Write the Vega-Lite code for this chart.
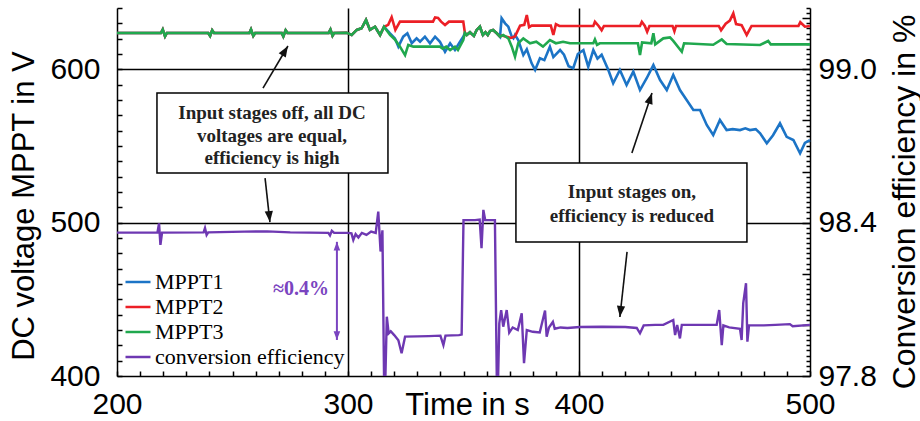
{
"$schema": "https://vega.github.io/schema/vega-lite/v6.json",
"width": 693, "height": 368,
"autosize": {"type": "none"},
"padding": {"left": 117, "top": 8, "right": 110, "bottom": 45},
"background": "white",
"config": {
 "view": {"stroke": null},
 "axis": {"ticks": true, "domainColor": "#000", "domainWidth": 1.5, "tickColor": "#000", "tickWidth": 1.5, "labelColor": "#000", "titleColor": "#000", "labelFont": "Liberation Sans", "titleFont": "Liberation Sans", "labelFontSize": 30, "titleFontSize": 31, "titleFontWeight": "normal", "labelOverlap": false, "labelSeparation": -80, "labelBound": false, "labelFlush": false, "gridColor": "#000", "gridWidth": 1.5}
},
"datasets": {
 "mppt": [
  {"s":"MPPT1","t":200,"v":623.7},{"s":"MPPT1","t":219,"v":623.7},{"s":"MPPT1","t":219.8,"v":626},{"s":"MPPT1","t":220.8,"v":621.5},{"s":"MPPT1","t":221.6,"v":623.7},{"s":"MPPT1","t":239.5,"v":623.7},{"s":"MPPT1","t":240.3,"v":621.8},{"s":"MPPT1","t":241.2,"v":625.5},{"s":"MPPT1","t":242,"v":623.7},{"s":"MPPT1","t":257.3,"v":623.7},{"s":"MPPT1","t":258,"v":626},{"s":"MPPT1","t":259,"v":621.8},{"s":"MPPT1","t":259.8,"v":623.7},{"s":"MPPT1","t":271.3,"v":623.7},{"s":"MPPT1","t":272,"v":621.5},{"s":"MPPT1","t":273,"v":625.5},{"s":"MPPT1","t":273.8,"v":623.7},{"s":"MPPT1","t":291.6,"v":623.7},{"s":"MPPT1","t":292.4,"v":626},{"s":"MPPT1","t":293.3,"v":622},{"s":"MPPT1","t":294,"v":623.7},{"s":"MPPT1","t":299.4,"v":623.9},{"s":"MPPT1","t":301.6,"v":622.4},{"s":"MPPT1","t":303.8,"v":625.7},{"s":"MPPT1","t":305.9,"v":626.8},{"s":"MPPT1","t":307.8,"v":632.2},{"s":"MPPT1","t":309.5,"v":625.7},{"s":"MPPT1","t":311.7,"v":627.8},{"s":"MPPT1","t":313.9,"v":622.4},{"s":"MPPT1","t":315.6,"v":627.8},
  {"s":"MPPT1","t":318.2,"v":623.5},{"s":"MPPT1","t":320.3,"v":620.2},{"s":"MPPT1","t":321.8,"v":614.8},{"s":"MPPT1","t":323.9,"v":621.3},{"s":"MPPT1","t":325.7,"v":623.5},{"s":"MPPT1","t":327.6,"v":617},{"s":"MPPT1","t":329.7,"v":620.2},{"s":"MPPT1","t":331.2,"v":618},{"s":"MPPT1","t":333.3,"v":621.3},{"s":"MPPT1","t":335.5,"v":617},{"s":"MPPT1","t":337.7,"v":621.3},{"s":"MPPT1","t":339.8,"v":618},{"s":"MPPT1","t":342,"v":611.5},{"s":"MPPT1","t":344.2,"v":617},{"s":"MPPT1","t":346.3,"v":612.6},{"s":"MPPT1","t":348.5,"v":618},{"s":"MPPT1","t":349.9,"v":621.3},{"s":"MPPT1","t":350.6,"v":623.7},
  {"s":"MPPT1","t":351.4,"v":622.4},{"s":"MPPT1","t":352.8,"v":624.2},{"s":"MPPT1","t":354.5,"v":621.8},{"s":"MPPT1","t":355.7,"v":625.7},{"s":"MPPT1","t":357.1,"v":627.8},{"s":"MPPT1","t":358.4,"v":622.4},{"s":"MPPT1","t":359.5,"v":624.2},{"s":"MPPT1","t":360.5,"v":622.4},{"s":"MPPT1","t":361.5,"v":625},{"s":"MPPT1","t":362.8,"v":625.7},{"s":"MPPT1","t":364.4,"v":623.5},{"s":"MPPT1","t":365.8,"v":621.3},
  {"s":"MPPT1","t":366.5,"v":633.3},{"s":"MPPT1","t":368,"v":630},{"s":"MPPT1","t":369.4,"v":627.8},{"s":"MPPT1","t":370.9,"v":621.3},{"s":"MPPT1","t":371.6,"v":620.2},{"s":"MPPT1","t":372.3,"v":622.4},{"s":"MPPT1","t":373.7,"v":619.1},{"s":"MPPT1","t":375.9,"v":609.3},{"s":"MPPT1","t":377.4,"v":613},{"s":"MPPT1","t":379.5,"v":603.9},{"s":"MPPT1","t":381,"v":599.6},{"s":"MPPT1","t":383.1,"v":607.2},{"s":"MPPT1","t":385,"v":606},{"s":"MPPT1","t":387.4,"v":614.8},{"s":"MPPT1","t":388.9,"v":608},{"s":"MPPT1","t":391.8,"v":612.6},{"s":"MPPT1","t":393.5,"v":609.5},{"s":"MPPT1","t":395.5,"v":602},{"s":"MPPT1","t":397.5,"v":600.7},{"s":"MPPT1","t":399.5,"v":610},{"s":"MPPT1","t":401.9,"v":612.6},{"s":"MPPT1","t":404,"v":601.7},{"s":"MPPT1","t":406.2,"v":612.6},{"s":"MPPT1","t":408,"v":607},{"s":"MPPT1","t":409.8,"v":609.5},{"s":"MPPT1","t":412.7,"v":599.6},{"s":"MPPT1","t":414.8,"v":590.9},{"s":"MPPT1","t":417.7,"v":599.6},{"s":"MPPT1","t":420.6,"v":589.8},{"s":"MPPT1","t":423.5,"v":598.5},{"s":"MPPT1","t":426.4,"v":586.5},{"s":"MPPT1","t":429.3,"v":594.2},{"s":"MPPT1","t":432.2,"v":602.8},{"s":"MPPT1","t":435.1,"v":593},{"s":"MPPT1","t":438,"v":586.5},{"s":"MPPT1","t":440.8,"v":596.3},{"s":"MPPT1","t":443.7,"v":586.5},{"s":"MPPT1","t":446.6,"v":580},{"s":"MPPT1","t":449.5,"v":573.5},{"s":"MPPT1","t":452.4,"v":573.5},{"s":"MPPT1","t":455.3,"v":563.7},{"s":"MPPT1","t":458.1,"v":557.2},{"s":"MPPT1","t":461,"v":567},{"s":"MPPT1","t":463.9,"v":560.4},{"s":"MPPT1","t":466.5,"v":561},{"s":"MPPT1","t":469.7,"v":560.4},{"s":"MPPT1","t":472,"v":561.5},{"s":"MPPT1","t":474,"v":560.4},{"s":"MPPT1","t":476.5,"v":561},{"s":"MPPT1","t":478.4,"v":558.3},{"s":"MPPT1","t":481.3,"v":551.8},{"s":"MPPT1","t":484,"v":557},{"s":"MPPT1","t":487,"v":564.8},{"s":"MPPT1","t":489.9,"v":556},{"s":"MPPT1","t":492.8,"v":553.9},{"s":"MPPT1","t":495.7,"v":545.2},{"s":"MPPT1","t":497.8,"v":552},{"s":"MPPT1","t":500,"v":553.9},
  {"s":"MPPT2","t":200,"v":623.7},{"s":"MPPT2","t":219,"v":623.7},{"s":"MPPT2","t":219.8,"v":626},{"s":"MPPT2","t":220.8,"v":621.5},{"s":"MPPT2","t":221.6,"v":623.7},{"s":"MPPT2","t":239.5,"v":623.7},{"s":"MPPT2","t":240.3,"v":621.8},{"s":"MPPT2","t":241.2,"v":625.5},{"s":"MPPT2","t":242,"v":623.7},{"s":"MPPT2","t":257.3,"v":623.7},{"s":"MPPT2","t":258,"v":626},{"s":"MPPT2","t":259,"v":621.8},{"s":"MPPT2","t":259.8,"v":623.7},{"s":"MPPT2","t":271.3,"v":623.7},{"s":"MPPT2","t":272,"v":621.5},{"s":"MPPT2","t":273,"v":625.5},{"s":"MPPT2","t":273.8,"v":623.7},{"s":"MPPT2","t":291.6,"v":623.7},{"s":"MPPT2","t":292.4,"v":626},{"s":"MPPT2","t":293.3,"v":622},{"s":"MPPT2","t":294,"v":623.7},{"s":"MPPT2","t":299.4,"v":623.9},{"s":"MPPT2","t":301.6,"v":622.4},{"s":"MPPT2","t":303.8,"v":625.7},{"s":"MPPT2","t":305.9,"v":626.8},{"s":"MPPT2","t":307.8,"v":632.2},{"s":"MPPT2","t":309.5,"v":625.7},{"s":"MPPT2","t":311.7,"v":627.8},{"s":"MPPT2","t":313.9,"v":622.4},{"s":"MPPT2","t":315.6,"v":627.8},
  {"s":"MPPT2","t":317.4,"v":629},{"s":"MPPT2","t":318.9,"v":634},{"s":"MPPT2","t":320.5,"v":625.7},{"s":"MPPT2","t":322.5,"v":631.1},{"s":"MPPT2","t":336.8,"v":631.1},{"s":"MPPT2","t":337.7,"v":633.8},{"s":"MPPT2","t":339,"v":633.5},{"s":"MPPT2","t":340.3,"v":631.1},{"s":"MPPT2","t":342,"v":628.9},{"s":"MPPT2","t":343.7,"v":631.1},{"s":"MPPT2","t":349.9,"v":631.1},{"s":"MPPT2","t":350.6,"v":623.7},
  {"s":"MPPT2","t":351.4,"v":622.4},{"s":"MPPT2","t":352.8,"v":624.2},{"s":"MPPT2","t":354.5,"v":621.8},{"s":"MPPT2","t":355.7,"v":625.7},{"s":"MPPT2","t":357.1,"v":627.8},{"s":"MPPT2","t":358.4,"v":622.4},{"s":"MPPT2","t":359.5,"v":624.2},{"s":"MPPT2","t":360.5,"v":622.4},{"s":"MPPT2","t":361.5,"v":625},{"s":"MPPT2","t":362.8,"v":625.7},{"s":"MPPT2","t":364.4,"v":623.5},{"s":"MPPT2","t":365.8,"v":621.3},
  {"s":"MPPT2","t":366.5,"v":622},{"s":"MPPT2","t":370.5,"v":620.5},{"s":"MPPT2","t":372.3,"v":621.5},{"s":"MPPT2","t":374.5,"v":628.5},{"s":"MPPT2","t":376.3,"v":629},{"s":"MPPT2","t":377.4,"v":635.4},{"s":"MPPT2","t":378.4,"v":627.5},{"s":"MPPT2","t":379.5,"v":628.5},{"s":"MPPT2","t":387.8,"v":628.5},{"s":"MPPT2","t":388.9,"v":622.4},{"s":"MPPT2","t":390,"v":629.5},{"s":"MPPT2","t":391.5,"v":628.3},{"s":"MPPT2","t":406.2,"v":628.3},{"s":"MPPT2","t":406.9,"v":631},{"s":"MPPT2","t":408.5,"v":628.3},{"s":"MPPT2","t":409.8,"v":625.5},{"s":"MPPT2","t":410.8,"v":628.3},{"s":"MPPT2","t":426.4,"v":628.3},{"s":"MPPT2","t":427.2,"v":631},{"s":"MPPT2","t":428.5,"v":628.3},{"s":"MPPT2","t":429.5,"v":624.5},{"s":"MPPT2","t":430.5,"v":628.3},{"s":"MPPT2","t":440.5,"v":628.3},{"s":"MPPT2","t":441.3,"v":624.8},{"s":"MPPT2","t":442,"v":628.3},{"s":"MPPT2","t":460.5,"v":628.3},{"s":"MPPT2","t":461.5,"v":625.5},{"s":"MPPT2","t":463.5,"v":629.8},{"s":"MPPT2","t":465.3,"v":631.8},{"s":"MPPT2","t":466.8,"v":636.5},{"s":"MPPT2","t":468,"v":629.5},{"s":"MPPT2","t":470.4,"v":628.8},{"s":"MPPT2","t":472.6,"v":622.4},{"s":"MPPT2","t":474.7,"v":628.3},{"s":"MPPT2","t":495,"v":628.3},{"s":"MPPT2","t":495.8,"v":630.7},{"s":"MPPT2","t":497.8,"v":627.8},{"s":"MPPT2","t":500,"v":628.3},
  {"s":"MPPT3","t":200,"v":623.7},{"s":"MPPT3","t":219,"v":623.7},{"s":"MPPT3","t":219.8,"v":626},{"s":"MPPT3","t":220.8,"v":621.5},{"s":"MPPT3","t":221.6,"v":623.7},{"s":"MPPT3","t":239.5,"v":623.7},{"s":"MPPT3","t":240.3,"v":621.8},{"s":"MPPT3","t":241.2,"v":625.5},{"s":"MPPT3","t":242,"v":623.7},{"s":"MPPT3","t":257.3,"v":623.7},{"s":"MPPT3","t":258,"v":626},{"s":"MPPT3","t":259,"v":621.8},{"s":"MPPT3","t":259.8,"v":623.7},{"s":"MPPT3","t":271.3,"v":623.7},{"s":"MPPT3","t":272,"v":621.5},{"s":"MPPT3","t":273,"v":625.5},{"s":"MPPT3","t":273.8,"v":623.7},{"s":"MPPT3","t":291.6,"v":623.7},{"s":"MPPT3","t":292.4,"v":626},{"s":"MPPT3","t":293.3,"v":622},{"s":"MPPT3","t":294,"v":623.7},{"s":"MPPT3","t":299.4,"v":623.9},{"s":"MPPT3","t":301.6,"v":622.4},{"s":"MPPT3","t":303.8,"v":625.7},{"s":"MPPT3","t":305.9,"v":626.8},{"s":"MPPT3","t":307.8,"v":632.2},{"s":"MPPT3","t":309.5,"v":625.7},{"s":"MPPT3","t":311.7,"v":627.8},{"s":"MPPT3","t":313.9,"v":622.4},{"s":"MPPT3","t":315.6,"v":627.8},
  {"s":"MPPT3","t":318.2,"v":622.4},{"s":"MPPT3","t":320.3,"v":619.5},{"s":"MPPT3","t":322.5,"v":614.8},{"s":"MPPT3","t":324.7,"v":609.3},{"s":"MPPT3","t":326.1,"v":615.9},{"s":"MPPT3","t":328.3,"v":614.8},{"s":"MPPT3","t":339.8,"v":614.8},{"s":"MPPT3","t":341,"v":613.5},{"s":"MPPT3","t":342.5,"v":614.8},{"s":"MPPT3","t":344.2,"v":612.6},{"s":"MPPT3","t":346.3,"v":614.8},{"s":"MPPT3","t":347.6,"v":612.6},{"s":"MPPT3","t":349.9,"v":619.1},{"s":"MPPT3","t":350.6,"v":623.7},
  {"s":"MPPT3","t":351.4,"v":622.4},{"s":"MPPT3","t":352.8,"v":624.2},{"s":"MPPT3","t":354.5,"v":621.8},{"s":"MPPT3","t":355.7,"v":625.7},{"s":"MPPT3","t":357.1,"v":627.8},{"s":"MPPT3","t":358.4,"v":622.4},{"s":"MPPT3","t":359.5,"v":624.2},{"s":"MPPT3","t":360.5,"v":622.4},{"s":"MPPT3","t":361.5,"v":625},{"s":"MPPT3","t":362.8,"v":625.7},{"s":"MPPT3","t":364.4,"v":623.5},{"s":"MPPT3","t":365.8,"v":621.3},
  {"s":"MPPT3","t":367.2,"v":622.4},{"s":"MPPT3","t":369.4,"v":620.2},{"s":"MPPT3","t":370.9,"v":614.8},{"s":"MPPT3","t":372.3,"v":608.2},{"s":"MPPT3","t":373.7,"v":617},{"s":"MPPT3","t":375.9,"v":620.2},{"s":"MPPT3","t":378.8,"v":617},{"s":"MPPT3","t":381.5,"v":618},{"s":"MPPT3","t":384.4,"v":614.8},{"s":"MPPT3","t":387.4,"v":619.1},{"s":"MPPT3","t":390,"v":617},{"s":"MPPT3","t":393.1,"v":618},{"s":"MPPT3","t":396.1,"v":617},{"s":"MPPT3","t":406.2,"v":617},{"s":"MPPT3","t":406.9,"v":619.5},{"s":"MPPT3","t":407.8,"v":616},{"s":"MPPT3","t":409,"v":617},{"s":"MPPT3","t":425.5,"v":617},{"s":"MPPT3","t":426.4,"v":609.3},{"s":"MPPT3","t":427.3,"v":617.5},{"s":"MPPT3","t":431.3,"v":617},{"s":"MPPT3","t":432.2,"v":623.5},{"s":"MPPT3","t":433,"v":616.3},{"s":"MPPT3","t":436.5,"v":620.2},{"s":"MPPT3","t":439.4,"v":620.8},{"s":"MPPT3","t":440.8,"v":618.5},{"s":"MPPT3","t":444.5,"v":611.5},{"s":"MPPT3","t":445.5,"v":617},{"s":"MPPT3","t":458.1,"v":616},{"s":"MPPT3","t":461.8,"v":619.5},{"s":"MPPT3","t":463.9,"v":616.5},{"s":"MPPT3","t":478.4,"v":615.9},{"s":"MPPT3","t":481.9,"v":618.5},{"s":"MPPT3","t":483,"v":616.3},{"s":"MPPT3","t":500,"v":616.3}
 ],
 "eff": [
  {"s":"conversion efficiency","t":200,"e":98.361},{"s":"conversion efficiency","t":217.5,"e":98.361},{"s":"conversion efficiency","t":218.2,"e":98.397},{"s":"conversion efficiency","t":218.8,"e":98.313},{"s":"conversion efficiency","t":219.5,"e":98.361},{"s":"conversion efficiency","t":237.5,"e":98.362},{"s":"conversion efficiency","t":238.1,"e":98.379},{"s":"conversion efficiency","t":238.8,"e":98.352},{"s":"conversion efficiency","t":239.5,"e":98.362},{"s":"conversion efficiency","t":255,"e":98.365},{"s":"conversion efficiency","t":265,"e":98.366},{"s":"conversion efficiency","t":275,"e":98.362},{"s":"conversion efficiency","t":291.5,"e":98.36},{"s":"conversion efficiency","t":292.2,"e":98.35},{"s":"conversion efficiency","t":293,"e":98.368},{"s":"conversion efficiency","t":294,"e":98.36},{"s":"conversion efficiency","t":300,"e":98.36},{"s":"conversion efficiency","t":301.5,"e":98.358},{"s":"conversion efficiency","t":302.3,"e":98.332},{"s":"conversion efficiency","t":303.3,"e":98.355},{"s":"conversion efficiency","t":304.5,"e":98.342},{"s":"conversion efficiency","t":306,"e":98.36},{"s":"conversion efficiency","t":308,"e":98.352},{"s":"conversion efficiency","t":310,"e":98.365},{"s":"conversion efficiency","t":312,"e":98.36},{"s":"conversion efficiency","t":313.1,"e":98.443},{"s":"conversion efficiency","t":314.1,"e":98.287},{"s":"conversion efficiency","t":314.9,"e":98.37},{"s":"conversion efficiency","t":315.6,"e":97.8},{"s":"conversion efficiency","t":316.2,"e":97.8},{"s":"conversion efficiency","t":316.8,"e":98.032},{"s":"conversion efficiency","t":317.6,"e":97.967},{"s":"conversion efficiency","t":318.5,"e":97.975},{"s":"conversion efficiency","t":320,"e":97.96},{"s":"conversion efficiency","t":321.8,"e":97.94},{"s":"conversion efficiency","t":323.2,"e":97.889},{"s":"conversion efficiency","t":324.7,"e":97.954},{"s":"conversion efficiency","t":330,"e":97.955},{"s":"conversion efficiency","t":335,"e":97.956},{"s":"conversion efficiency","t":340,"e":97.958},{"s":"conversion efficiency","t":341.3,"e":97.921},{"s":"conversion efficiency","t":342.2,"e":97.958},{"s":"conversion efficiency","t":348,"e":97.96},{"s":"conversion efficiency","t":349.2,"e":97.962},{"s":"conversion efficiency","t":350,"e":98.41},{"s":"conversion efficiency","t":355,"e":98.41},{"s":"conversion efficiency","t":357,"e":98.412},{"s":"conversion efficiency","t":357.8,"e":98.3},{"s":"conversion efficiency","t":358.6,"e":98.45},{"s":"conversion efficiency","t":359.4,"e":98.41},{"s":"conversion efficiency","t":363.6,"e":98.41},{"s":"conversion efficiency","t":364.4,"e":97.8},{"s":"conversion efficiency","t":365,"e":97.8},{"s":"conversion efficiency","t":365.5,"e":98.006},{"s":"conversion efficiency","t":366.3,"e":98.058},{"s":"conversion efficiency","t":367.2,"e":97.993},{"s":"conversion efficiency","t":368.7,"e":98.058},{"s":"conversion efficiency","t":369.8,"e":97.97},{"s":"conversion efficiency","t":371.3,"e":97.99},{"s":"conversion efficiency","t":373.5,"e":97.98},{"s":"conversion efficiency","t":375.2,"e":98.045},{"s":"conversion efficiency","t":376.2,"e":97.85},{"s":"conversion efficiency","t":377.4,"e":97.98},{"s":"conversion efficiency","t":380,"e":97.973},{"s":"conversion efficiency","t":383,"e":97.97},{"s":"conversion efficiency","t":385.3,"e":98.056},{"s":"conversion efficiency","t":386,"e":97.954},{"s":"conversion efficiency","t":387,"e":97.99},{"s":"conversion efficiency","t":388.7,"e":98.012},{"s":"conversion efficiency","t":389.5,"e":97.985},{"s":"conversion efficiency","t":392,"e":97.99},{"s":"conversion efficiency","t":395,"e":97.988},{"s":"conversion efficiency","t":400.4,"e":97.992},{"s":"conversion efficiency","t":410,"e":97.993},{"s":"conversion efficiency","t":420,"e":97.992},{"s":"conversion efficiency","t":425,"e":97.988},{"s":"conversion efficiency","t":426.4,"e":97.967},{"s":"conversion efficiency","t":428,"e":97.998},{"s":"conversion efficiency","t":433,"e":98},{"s":"conversion efficiency","t":436.5,"e":98},{"s":"conversion efficiency","t":440.8,"e":98.019},{"s":"conversion efficiency","t":441.6,"e":97.96},{"s":"conversion efficiency","t":442.5,"e":98},{"s":"conversion efficiency","t":443.7,"e":97.947},{"s":"conversion efficiency","t":444.5,"e":98},{"s":"conversion efficiency","t":450,"e":98},{"s":"conversion efficiency","t":459.6,"e":98},{"s":"conversion efficiency","t":460.7,"e":98.058},{"s":"conversion efficiency","t":461.8,"e":97.921},{"s":"conversion efficiency","t":462.5,"e":97.998},{"s":"conversion efficiency","t":465,"e":97.99},{"s":"conversion efficiency","t":469.7,"e":97.985},{"s":"conversion efficiency","t":470.4,"e":97.941},{"s":"conversion efficiency","t":471.1,"e":98.085},{"s":"conversion efficiency","t":472.3,"e":98.163},{"s":"conversion efficiency","t":472.9,"e":97.934},{"s":"conversion efficiency","t":473.6,"e":97.998},{"s":"conversion efficiency","t":480,"e":97.998},{"s":"conversion efficiency","t":485,"e":98},{"s":"conversion efficiency","t":491.3,"e":98.003},{"s":"conversion efficiency","t":492.5,"e":97.995},{"s":"conversion efficiency","t":500,"e":98}
 ],
 "boxes": [{"t": 217.3, "t2": 317.3, "v": 532.4, "v2": 584.6}, {"t": 372.7, "t2": 472.7, "v": 487.4, "v2": 538.9}],
 "notes": [
  {"t": 267.1, "v": 571.5, "label": "Input  stages off, all DC"},
  {"t": 267.1, "v": 556.8, "label": "voltages are equal,"},
  {"t": 267.1, "v": 542.2, "label": "efficiency is high"},
  {"t": 422.9, "v": 520.3, "label": "Input  stages on,"},
  {"t": 422.9, "v": 504.3, "label": "efficiency is reduced"}
 ],
 "arrows": [
  {"id": "a1", "t": 274.0, "v": 615.2, "t2": 263.2, "v2": 587.8},
  {"id": "a2", "t": 266.2, "v": 500.4, "t2": 264.1, "v2": 529.1},
  {"id": "a3", "t": 431.6, "v": 584.6, "t2": 422.9, "v2": 545.4},
  {"id": "a4", "t": 417.7, "v": 438.5, "t2": 420.8, "v2": 480.9}
 ],
 "darrow": [{"t": 295.2, "e": 98.325, "e2": 97.941}],
 "dheads": [{"dir": "up", "t": 295.2, "e": 98.325}, {"dir": "down", "t": 295.2, "e": 97.941}],
 "dnote": [{"t": 279.7, "e": 98.141, "label": "≈0.4%"}]
},
"encoding": {
 "x": {"field": "t", "type": "quantitative", "scale": {"domain": [200, 500], "nice": false, "zero": false},
   "axis": {"title": "Time in s", "values": [200,210,220,230,240,250,260,270,280,290,300,310,320,330,340,350,360,370,380,390,400,410,420,430,440,450,460,470,480,490,500],
     "labelExpr": "datum.value % 100 === 0 ? datum.label : ''", "labelOverlap": false, "ticks": true, "tickSize": -5, "labelPadding": 18,
     "grid": true, "gridOpacity": {"condition": {"test": "datum.value === 300 || datum.value === 400", "value": 1}, "value": 0},
     "titleX": 350, "titleY": 38, "titleAlign": "center", "titleBaseline": "alphabetic"}}
},
"layer": [
 {
  "encoding": {
   "y": {"field": "v", "type": "quantitative", "scale": {"domain": [400, 640], "nice": false, "zero": false},
     "axis": {"title": "DC voltage MPPT in V", "values": [400,410,420,430,440,450,460,470,480,490,500,510,520,530,540,550,560,570,580,590,600,610,620,630,640],
       "labelExpr": "datum.value % 100 === 0 ? datum.label : ''", "labelOverlap": false, "ticks": true, "tickSize": -5, "labelPadding": 22,
       "grid": true, "gridOpacity": {"condition": {"test": "datum.value === 500 || datum.value === 600", "value": 1}, "value": 0},
       "titleX": -84, "titleY": 197.5, "titleAngle": -90, "titleAlign": "center", "titleBaseline": "alphabetic"}}
  },
  "layer": [
   {"data": {"name": "mppt"}, "mark": {"type": "line", "strokeWidth": 2.6, "interpolate": "linear"},
    "encoding": {
     "color": {"field": "s", "type": "nominal",
       "scale": {"domain": ["MPPT1", "MPPT2", "MPPT3", "conversion efficiency"], "range": ["#1c74c6", "#ec1f26", "#20a84e", "#6e38b2"]},
       "legend": {"title": null, "orient": "none", "legendX": 7, "legendY": 260, "symbolType": "stroke", "symbolSize": 625, "symbolStrokeWidth": 2.5,
         "labelFont": "Liberation Serif", "labelFontSize": 22, "labelColor": "#000", "labelOffset": 3, "rowPadding": 0, "padding": 0, "labelLimit": 400}}
    }},
   {"data": {"name": "boxes"}, "mark": {"type": "rect", "fill": "white", "stroke": "#000", "strokeWidth": 1.5},
    "encoding": {"x2": {"field": "t2"}, "y2": {"field": "v2"}}},
   {"data": {"name": "notes"}, "mark": {"type": "text", "font": "Liberation Serif", "fontWeight": "bold", "fontSize": 19, "color": "#222", "align": "center", "baseline": "middle"},
    "encoding": {"text": {"field": "label"}}},
   {"data": {"name": "arrows"}, "mark": {"type": "rule", "color": "#111", "strokeWidth": 1.6},
    "encoding": {"x2": {"field": "t2"}, "y2": {"field": "v2"}}},
   {"data": {"name": "arrows"}, "transform": [{"filter": "datum.id === 'a1'"}],
    "mark": {"type": "point", "shape": "M0,0L-0.6,1.6L0.6,1.6Z", "filled": true, "color": "#111", "size": 190, "angle": 31, "opacity": 1}},
   {"data": {"name": "arrows"}, "transform": [{"filter": "datum.id === 'a2'"}],
    "mark": {"type": "point", "shape": "M0,0L-0.6,1.6L0.6,1.6Z", "filled": true, "color": "#111", "size": 190, "angle": 174, "opacity": 1}},
   {"data": {"name": "arrows"}, "transform": [{"filter": "datum.id === 'a3'"}],
    "mark": {"type": "point", "shape": "M0,0L-0.6,1.6L0.6,1.6Z", "filled": true, "color": "#111", "size": 190, "angle": 18, "opacity": 1}},
   {"data": {"name": "arrows"}, "transform": [{"filter": "datum.id === 'a4'"}],
    "mark": {"type": "point", "shape": "M0,0L-0.6,1.6L0.6,1.6Z", "filled": true, "color": "#111", "size": 190, "angle": 186, "opacity": 1}}
  ]
 },
 {
  "encoding": {
   "y": {"field": "e", "type": "quantitative", "scale": {"domain": [97.8, 99.24], "nice": false, "zero": false},
     "axis": {"orient": "right", "title": "Conversion efficiency in %", "titleFontSize": 32,
       "values": [97.8,97.82,97.84,97.86,97.88,97.9,97.92,97.94,97.96,97.98,98,98.02,98.04,98.06,98.08,98.1,98.12,98.14,98.16,98.18,98.2,98.22,98.24,98.26,98.28,98.3,98.32,98.34,98.36,98.38,98.4,98.42,98.44,98.46,98.48,98.5,98.52,98.54,98.56,98.58,98.6,98.62,98.64,98.66,98.68,98.7,98.72,98.74,98.76,98.78,98.8,98.82,98.84,98.86,98.88,98.9,98.92,98.94,98.96,98.98,99,99.02,99.04,99.06,99.08,99.1,99.12,99.14,99.16,99.18,99.2,99.22,99.24],
       "labelExpr": "abs(datum.value/0.6 - round(datum.value/0.6)) < 0.001 ? format(datum.value, '.1f') : ''",
       "labelOverlap": false, "ticks": true, "grid": false,
       "tickSize": {"condition": {"test": "abs(datum.value*5 - round(datum.value*5)) < 0.001", "value": -8}, "value": -4},
       "labelPadding": 16,
       "titleX": 104, "titleY": 193.5, "titleAngle": -90, "titleAlign": "center", "titleBaseline": "alphabetic"}}
  },
  "layer": [
   {"data": {"name": "eff"}, "mark": {"type": "line", "strokeWidth": 2.4, "clip": true},
    "encoding": {"color": {"field": "s", "type": "nominal"}}},
   {"data": {"name": "darrow"}, "mark": {"type": "rule", "color": "#7a44c0", "strokeWidth": 2},
    "encoding": {"y2": {"field": "e2"}}},
   {"data": {"name": "dheads"}, "transform": [{"filter": "datum.dir === 'up'"}],
    "mark": {"type": "point", "shape": "M0,0L-0.6,1.6L0.6,1.6Z", "filled": true, "color": "#7a44c0", "size": 120, "angle": 0, "opacity": 1}},
   {"data": {"name": "dheads"}, "transform": [{"filter": "datum.dir === 'down'"}],
    "mark": {"type": "point", "shape": "M0,0L-0.6,1.6L0.6,1.6Z", "filled": true, "color": "#7a44c0", "size": 120, "angle": 180, "opacity": 1}},
   {"data": {"name": "dnote"}, "mark": {"type": "text", "font": "Liberation Serif", "fontWeight": "bold", "fontSize": 20, "color": "#7a44c0", "align": "center", "baseline": "middle"},
    "encoding": {"text": {"field": "label"}}}
  ]
 }
],
"resolve": {"scale": {"y": "independent"}}
}
